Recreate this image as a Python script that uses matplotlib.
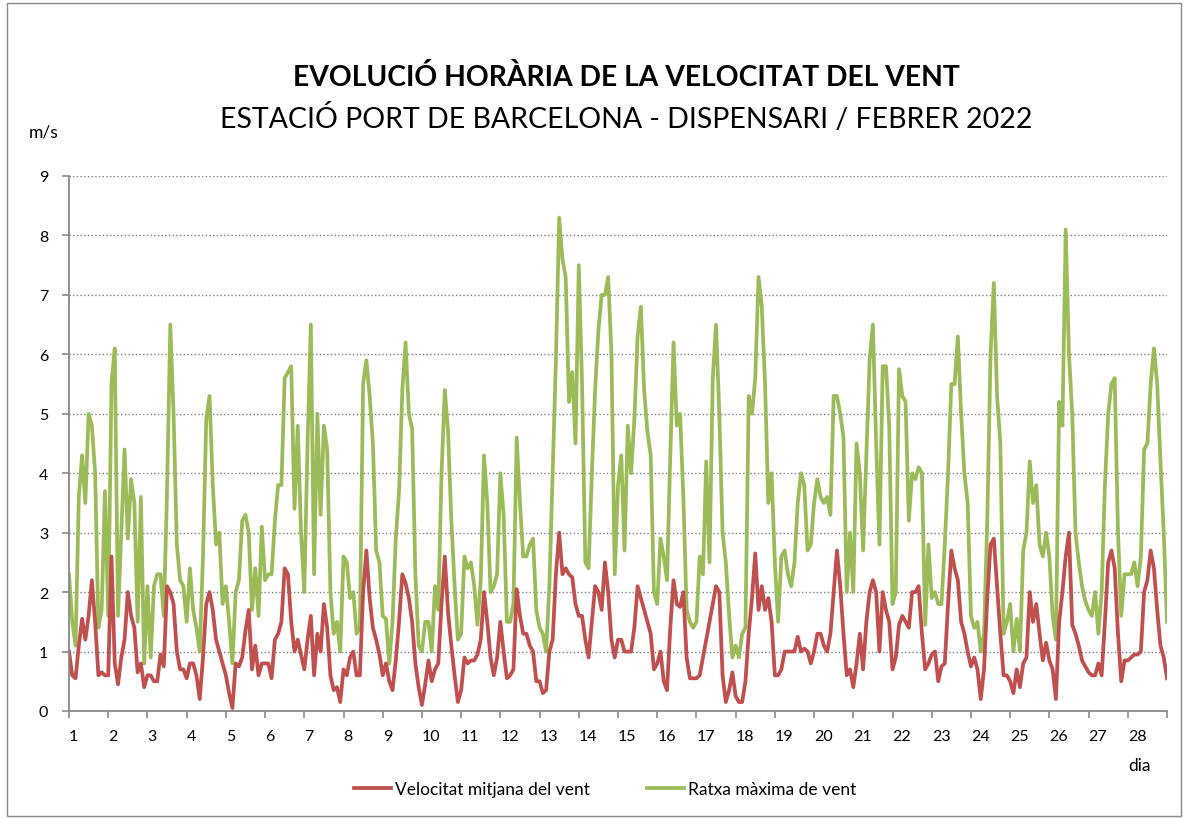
import numpy as np
import matplotlib.pyplot as plt
from matplotlib.patches import Rectangle
import matplotlib.transforms as mtransforms

plt.rcParams['font.family'] = ['Lato', 'DejaVu Sans']

# lectures cada 2 hores, una fila per dia (1 a 28 de febrer) + la darrera
mitjana = [
    1.0, 0.6, 0.55, 1.1, 1.55, 1.2, 1.6, 2.2, 1.5, 0.6, 0.65, 0.6,
    0.6, 2.6, 0.8, 0.45, 0.9, 1.2, 2.0, 1.6, 1.4, 0.65, 0.8, 0.4,
    0.6, 0.6, 0.5, 0.5, 0.95, 0.75, 2.1, 2.0, 1.8, 1.0, 0.7, 0.7,
    0.55, 0.8, 0.8, 0.6, 0.2, 0.9, 1.8, 2.0, 1.7, 1.2, 1.0, 0.8,
    0.6, 0.3, 0.05, 0.8, 0.75, 0.9, 1.35, 1.7, 0.7, 1.1, 0.6, 0.8,
    0.8, 0.8, 0.55, 1.2, 1.3, 1.5, 2.4, 2.3, 1.5, 1.0, 1.2, 0.95,
    0.7, 1.2, 1.6, 0.6, 1.3, 1.0, 1.8, 1.4, 0.6, 0.35, 0.4, 0.15,
    0.7, 0.6, 0.9, 1.0, 0.6, 0.6, 2.0, 2.7, 1.9, 1.4, 1.2, 0.95,
    0.6, 0.8, 0.5, 0.35, 0.85, 1.5, 2.3, 2.15, 1.9, 1.5, 0.8, 0.4,
    0.1, 0.45, 0.85, 0.5, 0.7, 0.8, 1.8, 2.6, 1.65, 1.1, 0.6, 0.15,
    0.35, 0.9, 0.8, 0.85, 0.85, 0.95, 1.2, 2.0, 1.5, 0.9, 0.6, 0.9,
    1.5, 1.0, 0.55, 0.6, 0.7, 2.05, 1.6, 1.3, 1.3, 1.1, 1.0, 0.5,
    0.5, 0.3, 0.35, 1.0, 1.2, 2.3, 3.0, 2.3, 2.4, 2.3, 2.25, 1.8,
    1.6, 1.6, 1.2, 0.9, 1.5, 2.1, 2.0, 1.7, 2.5, 2.0, 1.2, 0.9,
    1.2, 1.2, 1.0, 1.0, 1.0, 1.4, 2.1, 1.9, 1.7, 1.5, 1.3, 0.7,
    0.8, 1.0, 0.5, 0.35, 1.4, 2.2, 1.8, 1.75, 2.0, 0.9, 0.55, 0.55,
    0.55, 0.6, 0.9, 1.2, 1.5, 1.8, 2.1, 2.0, 0.6, 0.15, 0.35, 0.65,
    0.25, 0.15, 0.15, 0.5, 1.3, 1.9, 2.65, 1.7, 2.1, 1.7, 1.9, 1.5,
    0.6, 0.6, 0.7, 1.0, 1.0, 1.0, 1.0, 1.25, 1.0, 1.05, 1.0, 0.8,
    1.0, 1.3, 1.3, 1.1, 1.0, 1.3, 2.0, 2.7, 2.1, 1.3, 0.6, 0.7,
    0.4, 0.8, 1.3, 0.7, 1.5, 2.0, 2.2, 2.0, 1.0, 2.0, 1.7, 1.5,
    0.7, 0.9, 1.45, 1.6, 1.5, 1.4, 2.0, 2.0, 2.1, 1.3, 0.7, 0.8,
    0.95, 1.0, 0.5, 0.75, 0.8, 1.8, 2.7, 2.4, 2.2, 1.5, 1.3, 1.0,
    0.75, 0.9, 0.7, 0.2, 0.7, 1.9, 2.8, 2.9, 2.1, 1.3, 0.6, 0.6,
    0.5, 0.3, 0.7, 0.4, 0.8, 0.9, 2.0, 1.5, 1.8, 1.3, 0.85, 1.15,
    0.85, 0.7, 0.2, 1.5, 2.0, 2.6, 3.0, 1.45, 1.3, 1.1, 0.85, 0.75,
    0.65, 0.6, 0.6, 0.8, 0.6, 1.5, 2.5, 2.7, 2.4, 1.3, 0.5, 0.85,
    0.85, 0.9, 0.95, 0.95, 1.0, 2.0, 2.2, 2.7, 2.4, 1.7, 1.1, 0.9,
    0.55,
]

ratxa = [
    2.3, 1.5, 1.1, 3.6, 4.3, 3.5, 5.0, 4.8, 4.0, 1.4, 1.7, 3.7,
    1.6, 5.5, 6.1, 1.6, 3.0, 4.4, 2.9, 3.9, 3.5, 1.5, 3.6, 0.8,
    2.1, 0.9, 2.1, 2.3, 2.3, 1.6, 3.7, 6.5, 5.0, 2.8, 2.2, 2.1,
    1.5, 2.4, 1.7, 1.4, 1.0, 2.6, 4.9, 5.3, 3.8, 2.8, 3.0, 1.8,
    2.1, 1.5, 0.8, 2.0, 2.2, 3.2, 3.3, 3.0, 1.7, 2.4, 1.6, 3.1,
    2.2, 2.3, 2.3, 3.2, 3.8, 3.8, 5.6, 5.7, 5.8, 3.4, 4.8, 3.0,
    2.0, 4.5, 6.5, 2.3, 5.0, 3.3, 4.8, 4.4, 2.0, 1.3, 1.5, 1.0,
    2.6, 2.5, 1.9, 2.0, 1.3, 1.4, 5.5, 5.9, 5.3, 4.5, 2.7, 2.5,
    1.6, 1.55, 0.8, 1.5, 2.9, 3.7, 5.4, 6.2, 5.0, 4.75, 2.3, 1.1,
    1.0, 1.5, 1.5, 1.0, 2.1, 1.7, 4.0, 5.4, 4.7, 3.2, 2.1, 1.2,
    1.3, 2.6, 2.4, 2.5, 2.1, 1.45, 2.2, 4.3, 3.5, 2.0, 2.1, 2.3,
    4.0, 3.3, 1.5, 1.5, 1.8, 4.6, 3.5, 2.6, 2.6, 2.8, 2.9, 1.7,
    1.4, 1.3, 1.0, 2.1, 4.0, 5.9, 8.3, 7.6, 7.3, 5.2, 5.7, 4.5,
    7.5, 5.5, 2.5, 2.4, 4.0, 5.4, 6.4, 7.0, 7.0, 7.3, 6.0, 2.3,
    3.8, 4.3, 2.7, 4.8, 4.0, 4.9, 6.3, 6.8, 5.4, 4.7, 4.3, 2.0,
    1.8, 2.9, 2.6, 2.2, 4.3, 6.2, 4.8, 5.0, 3.6, 1.7, 1.5, 1.4,
    1.5, 2.6, 2.3, 4.2, 2.5, 5.6, 6.5, 5.0, 3.0, 2.5, 1.6, 0.9,
    1.1, 0.9, 1.3, 1.4, 5.3, 5.0, 5.6, 7.3, 6.8, 5.5, 3.5, 4.0,
    2.5, 1.5, 2.6, 2.7, 2.3, 2.1, 2.5, 3.5, 4.0, 3.8, 2.7, 2.8,
    3.5, 3.9, 3.6, 3.5, 3.6, 3.3, 5.3, 5.3, 5.0, 4.6, 2.0, 3.0,
    2.0, 4.5, 4.0, 2.7, 4.3, 5.9, 6.5, 4.5, 2.8, 5.8, 5.8, 4.8,
    1.8, 2.0, 5.75, 5.3, 5.2, 3.2, 4.0, 3.9, 4.1, 4.0, 1.45, 2.8,
    1.9, 2.0, 1.8, 1.8, 2.8, 4.0, 5.5, 5.5, 6.3, 5.0, 4.0, 3.5,
    1.6, 1.4, 1.5, 1.0, 1.3, 3.2, 6.0, 7.2, 5.3, 4.5, 1.3, 1.5,
    1.8, 1.0, 1.55, 1.0, 2.7, 3.0, 4.2, 3.5, 3.8, 2.8, 2.6, 3.0,
    2.6, 1.6, 1.2, 5.2, 4.8, 8.1, 6.0, 5.0, 3.0, 2.5, 2.1, 1.85,
    1.7, 1.6, 2.0, 1.3, 2.0, 3.8, 5.0, 5.5, 5.6, 3.0, 1.6, 2.3,
    2.3, 2.3, 2.5, 2.1, 2.6, 4.4, 4.5, 5.5, 6.1, 5.5, 4.2, 3.0,
    1.5,
]

dies = [str(d) for d in range(1, 29)]

x = np.arange(len(mitjana)) * 2 / 24  # en dies

fig = plt.figure(figsize=(11.87, 8.20), dpi=100)
ax = fig.add_axes([69 / 1187, 108 / 820, 1098 / 1187, 535 / 820])

verd, = ax.plot(x, ratxa, color='#9BBB59', lw=2.7, solid_joinstyle='round')
vermell, = ax.plot(x, mitjana, color='#C0504D', lw=2.7, solid_joinstyle='round')

ax.set_xlim(0, 28)
ax.set_ylim(0, 9)
ax.set_yticks(range(10))
ax.yaxis.grid(True, linestyle=':', color='#7f7f7f', lw=1)
ax.set_axisbelow(True)

for s in ['top', 'right']:
    ax.spines[s].set_visible(False)
for s in ['left', 'bottom']:
    ax.spines[s].set_color('#888888')
    ax.spines[s].set_linewidth(1.3)

ax.set_xticks(range(29))
ax.set_xticklabels(dies + [''], ha='left')
offset = mtransforms.ScaledTranslation(2 / 100, 0, fig.dpi_scale_trans)
for lab in ax.get_xticklabels():
    lab.set_transform(lab.get_transform() + offset)
ax.tick_params(axis='both', colors='#888888', labelcolor='black',
               labelsize=11.5, length=5, width=1.2, direction='out')
ax.tick_params(axis='x', pad=8)
ax.tick_params(axis='y', pad=10)

fig.text(0.528, 1 - 78 / 820, 'EVOLUCIÓ HORÀRIA DE LA VELOCITAT DEL VENT',
         ha='center', va='center', fontsize=20.3, fontweight='bold')
fig.text(0.528, 1 - 118 / 820, 'ESTACIÓ PORT DE BARCELONA - DISPENSARI / FEBRER 2022',
         ha='center', va='center', fontsize=20.5)
fig.text(29 / 1187, 1 - 133 / 820, 'm/s', ha='left', va='center', fontsize=12.5)
fig.text(1128 / 1187, 1 - 766 / 820, 'dia', ha='left', va='center', fontsize=12.5)

fig.legend([vermell, verd], ['Velocitat mitjana del vent', 'Ratxa màxima de vent'],
           loc='center', bbox_to_anchor=(0.510, 1 - 790 / 820), ncol=2,
           frameon=False, fontsize=12.5, handlelength=2.1, handletextpad=0.25,
           columnspacing=3.3)

fig.patches.append(Rectangle((7 / 1187, 3 / 820), 1174 / 1187, 813 / 820,
                             transform=fig.transFigure, fill=False,
                             edgecolor='#888888', lw=1))

fig.savefig('out.png', dpi=100)
